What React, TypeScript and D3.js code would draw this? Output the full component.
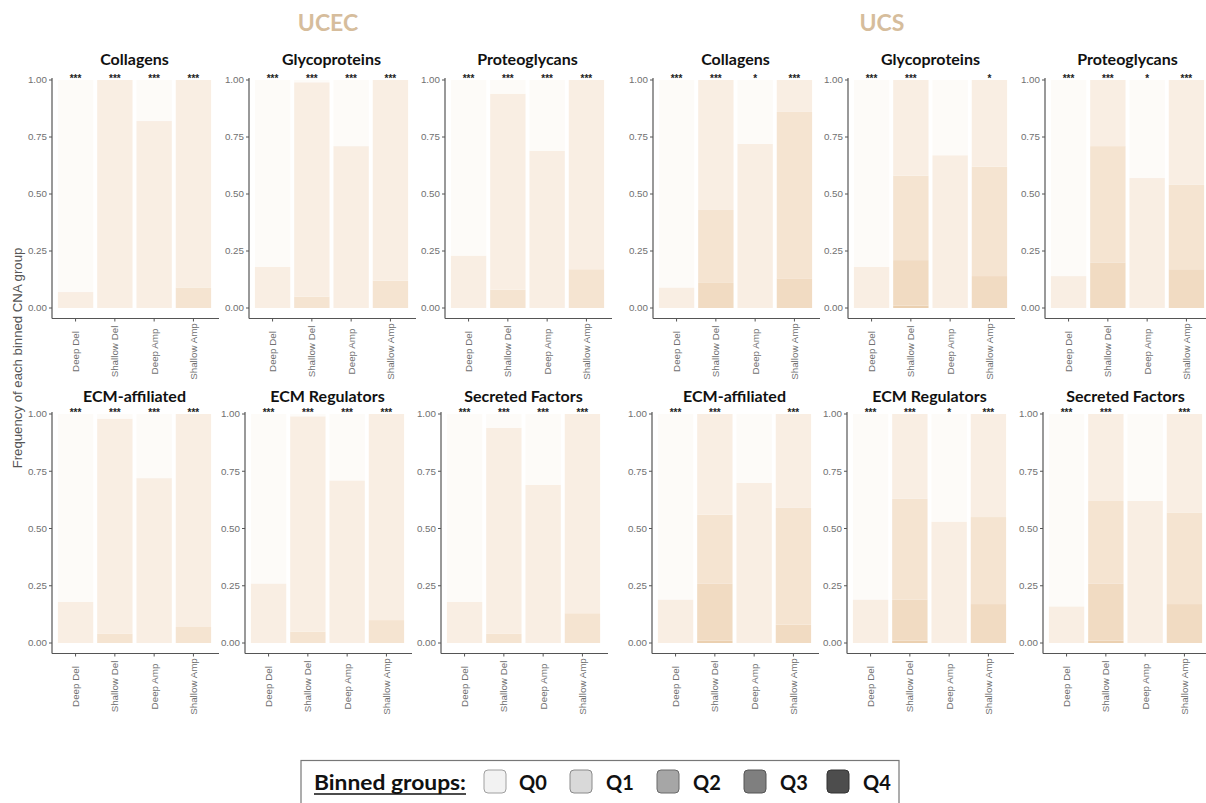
import React from "react";
import * as d3 from "d3";

const categories = ["Deep Del", "Shallow Del", "Deep Amp", "Shallow Amp"];
const groups = ["Q0", "Q1", "Q2", "Q3", "Q4"];
const cohorts = ["UCEC", "UCS"];
const panelNames = ["Collagens", "Glycoproteins", "Proteoglycans", "ECM-affiliated", "ECM Regulators", "Secreted Factors"];
const yTicks = [0, 0.25, 0.5, 0.75, 1];

// Each bar: fractions of [Q0, Q1, Q2, Q3, Q4]
const ucecCollagens = [[0.93, 0.07, 0, 0, 0], [0, 1.0, 0, 0, 0], [0.18, 0.82, 0, 0, 0], [0, 0.91, 0.09, 0, 0]];
const ucecGlycoproteins = [[0.82, 0.18, 0, 0, 0], [0.01, 0.94, 0.05, 0, 0], [0.29, 0.71, 0, 0, 0], [0, 0.88, 0.12, 0, 0]];
const ucecProteoglycans = [[0.77, 0.23, 0, 0, 0], [0.06, 0.86, 0.08, 0, 0], [0.31, 0.69, 0, 0, 0], [0, 0.83, 0.17, 0, 0]];
const ucecEcmAffiliated = [[0.82, 0.18, 0, 0, 0], [0.02, 0.94, 0.04, 0, 0], [0.28, 0.72, 0, 0, 0], [0, 0.93, 0.07, 0, 0]];
const ucecEcmRegulators = [[0.74, 0.26, 0, 0, 0], [0.01, 0.94, 0.05, 0, 0], [0.29, 0.71, 0, 0, 0], [0, 0.9, 0.1, 0, 0]];
const ucecSecretedFactors = [[0.82, 0.18, 0, 0, 0], [0.06, 0.9, 0.04, 0, 0], [0.31, 0.69, 0, 0, 0], [0, 0.87, 0.13, 0, 0]];

const ucsCollagens = [[0.91, 0.09, 0, 0, 0], [0, 0.57, 0.32, 0.11, 0], [0.28, 0.72, 0, 0, 0], [0, 0.14, 0.73, 0.13, 0]];
const ucsGlycoproteins = [[0.82, 0.18, 0, 0, 0], [0, 0.42, 0.37, 0.2, 0.01], [0.33, 0.67, 0, 0, 0], [0, 0.38, 0.48, 0.14, 0]];
const ucsProteoglycans = [[0.86, 0.14, 0, 0, 0], [0, 0.29, 0.51, 0.2, 0], [0.43, 0.57, 0, 0, 0], [0, 0.46, 0.37, 0.17, 0]];
const ucsEcmAffiliated = [[0.81, 0.19, 0, 0, 0], [0, 0.44, 0.3, 0.25, 0.01], [0.3, 0.7, 0, 0, 0], [0, 0.41, 0.51, 0.08, 0]];
const ucsEcmRegulators = [[0.81, 0.19, 0, 0, 0], [0, 0.37, 0.44, 0.18, 0.01], [0.47, 0.53, 0, 0, 0], [0, 0.45, 0.38, 0.17, 0]];
const ucsSecretedFactors = [[0.84, 0.16, 0, 0, 0], [0, 0.38, 0.36, 0.25, 0.01], [0.38, 0.62, 0, 0, 0], [0, 0.43, 0.4, 0.17, 0]];

const ucecStars = [
  ["***", "***", "***", "***"], ["***", "***", "***", "***"], ["***", "***", "***", "***"],
  ["***", "***", "***", "***"], ["***", "***", "***", "***"], ["***", "***", "***", "***"],
];
const ucsStars = [
  ["***", "***", "*", "***"], ["***", "***", "", "*"], ["***", "***", "*", "***"],
  ["***", "***", "", "***"], ["***", "***", "*", "***"], ["***", "***", "", "***"],
];

const ucecData = [ucecCollagens, ucecGlycoproteins, ucecProteoglycans, ucecEcmAffiliated, ucecEcmRegulators, ucecSecretedFactors];
const ucsData = [ucsCollagens, ucsGlycoproteins, ucsProteoglycans, ucsEcmAffiliated, ucsEcmRegulators, ucsSecretedFactors];

const barColors = ["#fdfbf8", "#f9eee3", "#f5e4d1", "#f1dbc2", "#ebd0b0"];
const legendFills = ["#f2f2f2", "#d9d9d9", "#a6a6a6", "#7f7f7f", "#4d4d4d"];
const legendStrokes = ["#a0a0a0", "#8a8a8a", "#6a6a6a", "#555555", "#333333"];

const W = 1206;
const H = 803;
const PLOT_W = 165;
const topAxisX = [52, 249, 445, 653, 848, 1045];
const botAxisX = [52, 245, 441, 652, 847, 1043];
const rowY = [
  { y0: 308, y1: 80, axisY: 318.5, titleY: 65 },
  { y0: 643, y1: 414, axisY: 653.5, titleY: 402 },
];
const sansFont = "Arial, 'Liberation Sans', sans-serif";

function Panel({ ax, row, title, data, stars }: any) {
  const { y0, y1, axisY, titleY } = rowY[row];
  const x = d3.scaleBand().domain(categories).range([ax, ax + PLOT_W]).paddingInner(0.1).paddingOuter(0.15);
  const y = d3.scaleLinear().domain([0, 1]).range([y0, y1]);
  const rows = data.map((vals: number[], i: number) => {
    const o: any = { cat: categories[i] };
    groups.forEach((g, j) => (o[g] = vals[j]));
    return o;
  });
  const stackKeys = groups.slice().reverse();
  const series = d3.stack().keys(stackKeys)(rows);
  return (
    <g>
      <text x={ax + PLOT_W / 2} y={titleY} textAnchor="middle" fontFamily="Lato, sans-serif" fontWeight={700} fontSize={16} fill="#111">
        {title}
      </text>
      {series.map((s: any) => {
        const gi = groups.indexOf(s.key);
        return s.map((d: any, i: number) =>
          d[1] - d[0] > 0 ? (
            <rect key={s.key + i} x={x(categories[i])} width={x.bandwidth()} y={y(d[1])} height={y(d[0]) - y(d[1])} fill={barColors[gi]} />
          ) : null
        );
      })}
      {stars.map((s: string, i: number) => (
        <text key={"st" + i} x={(x(categories[i]) as number) + x.bandwidth() / 2} y={y(1) + 2} textAnchor="middle" fontFamily={sansFont} fontWeight={700} fontSize={10} fill="#222">
          {s}
        </text>
      ))}
      <line x1={ax} x2={ax} y1={y(1) - 2} y2={axisY} stroke="#555" strokeWidth={1.2} />
      <line x1={ax} x2={ax + PLOT_W + 2} y1={axisY} y2={axisY} stroke="#555" strokeWidth={1.2} />
      {yTicks.map((t) => (
        <g key={"yt" + t}>
          <line x1={ax - 3} x2={ax} y1={y(t)} y2={y(t)} stroke="#555" strokeWidth={1} />
          <text x={ax - 5} y={y(t) + 3.4} textAnchor="end" fontFamily={sansFont} fontSize={9.8} fill="#707070">
            {d3.format(".2f")(t)}
          </text>
        </g>
      ))}
      {categories.map((c) => {
        const cx = (x(c) as number) + x.bandwidth() / 2;
        const cy = axisY + 33;
        return (
          <g key={"xt" + c}>
            <line x1={cx} x2={cx} y1={axisY} y2={axisY + 3} stroke="#555" strokeWidth={1} />
            <text transform={`translate(${cx + 3.5},${cy}) rotate(-90)`} textAnchor="middle" fontFamily={sansFont} fontSize={9.8} fill="#707070">
              {c}
            </text>
          </g>
        );
      })}
    </g>
  );
}

export default function App() {
  const panels: any[] = [];
  cohorts.forEach((co, ci) => {
    const data = ci === 0 ? ucecData : ucsData;
    const stars = ci === 0 ? ucecStars : ucsStars;
    for (let p = 0; p < 6; p++) {
      const row = p < 3 ? 0 : 1;
      const col = ci * 3 + (p % 3);
      const ax = row === 0 ? topAxisX[col] : botAxisX[col];
      panels.push(<Panel key={co + p} ax={ax} row={row} title={panelNames[p]} data={data[p]} stars={stars[p]} />);
    }
  });

  const legendSqX = [484, 570, 657, 744, 827];
  const legendLabelX = [519, 606, 693, 780, 863];

  return (
    <svg width={W} height={H} style={{ position: "absolute", left: 0, top: 0, background: "#fff" }}>
      <rect width={W} height={H} fill="#fff" />
      <text x={328} y={31} textAnchor="middle" fontFamily="Lato, sans-serif" fontWeight={700} fontSize={23} fill="#d6bd9c">
        {cohorts[0]}
      </text>
      <text x={882} y={31} textAnchor="middle" fontFamily="Lato, sans-serif" fontWeight={700} fontSize={23} fill="#d6bd9c">
        {cohorts[1]}
      </text>
      {panels}
      <text transform="translate(22,358) rotate(-90)" textAnchor="middle" fontFamily={sansFont} fontSize={13.2} fill="#555">
        Frequency of each binned CNA group
      </text>
      <rect x={301} y={760.5} width={598} height={60} fill="#fff" stroke="#777" strokeWidth={1.2} />
      <text x={314} y={790} fontFamily="Lato, sans-serif" fontWeight={700} fontSize={21} textLength={152} lengthAdjust="spacingAndGlyphs" fill="#111">
        Binned groups:
      </text>
      <line x1={314} x2={466} y1={794} y2={794} stroke="#111" strokeWidth={1.5} />
      {groups.map((g, i) => (
        <g key={"lg" + g}>
          <rect x={legendSqX[i]} y={770} width={22} height={23} rx={4} fill={legendFills[i]} stroke={legendStrokes[i]} strokeWidth={1} />
          <text x={legendLabelX[i]} y={790} fontFamily="Lato, sans-serif" fontWeight={700} fontSize={20} fill="#111">
            {g}
          </text>
        </g>
      ))}
    </svg>
  );
}
